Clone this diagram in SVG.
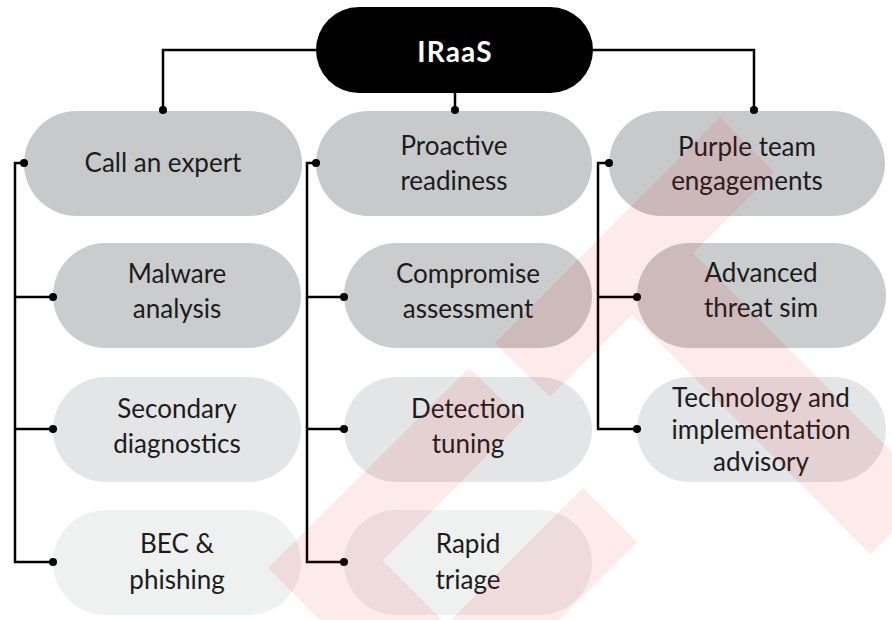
<svg xmlns="http://www.w3.org/2000/svg" width="892" height="620" viewBox="0 0 892 620">
  <style>
    .n1 { fill: #c8c9cb; }
    .n2 { fill: #cbcccd; }
    .n3 { fill: #e4e5e6; }
    .n4 { fill: #eff0f0; }
    .t { font-family: "Lato", "Liberation Sans", sans-serif; font-size: 26px; font-weight: 400; fill: #1c1c1c; text-anchor: middle; }
    .root-t { font-family: "Lato", "Liberation Sans", sans-serif; font-size: 28px; font-weight: bold; letter-spacing: 1.2px; fill: #fff; text-anchor: middle; }
    .ln { fill: none; stroke: #000; stroke-width: 2.5; }
    .dot { fill: #000; }
    .wm { fill: #e4131b; fill-opacity: 0.09; }
  </style>
  <rect width="892" height="620" fill="#fff"/>

  <g id="root">
    <rect x="316" y="7" width="277" height="86" rx="43" fill="#000"/>
    <text class="root-t" x="455" y="62">IRaaS</text>
  </g>

  <g id="call-an-expert">
    <rect class="n1" x="24" y="111" width="278" height="105" rx="52.5"/>
    <text class="t" x="163" y="172">Call an expert</text>
  </g>
  <g id="malware-analysis">
    <rect class="n2" x="53" y="243" width="248" height="105" rx="52.5"/>
    <text class="t" x="177" y="283">Malware</text>
    <text class="t" x="177" y="318">analysis</text>
  </g>
  <g id="secondary-diagnostics">
    <rect class="n3" x="53" y="377" width="248" height="105" rx="52.5"/>
    <text class="t" x="177" y="418">Secondary</text>
    <text class="t" x="177" y="453">diagnostics</text>
  </g>
  <g id="bec-phishing">
    <rect class="n4" x="53" y="510" width="248" height="105" rx="52.5"/>
    <text class="t" x="177" y="553">BEC &amp;</text>
    <text class="t" x="177" y="589">phishing</text>
  </g>

  <g id="proactive-readiness">
    <rect class="n1" x="316" y="111" width="276" height="105" rx="52.5"/>
    <text class="t" x="454" y="155">Proactive</text>
    <text class="t" x="454" y="190">readiness</text>
  </g>
  <g id="compromise-assessment">
    <rect class="n2" x="344" y="243" width="248" height="105" rx="52.5"/>
    <text class="t" x="468" y="283">Compromise</text>
    <text class="t" x="468" y="318">assessment</text>
  </g>
  <g id="detection-tuning">
    <rect class="n3" x="344" y="377" width="248" height="105" rx="52.5"/>
    <text class="t" x="468" y="418">Detection</text>
    <text class="t" x="468" y="453">tuning</text>
  </g>
  <g id="rapid-triage">
    <rect class="n4" x="344" y="510" width="248" height="105" rx="52.5"/>
    <text class="t" x="468" y="553">Rapid</text>
    <text class="t" x="468" y="589">triage</text>
  </g>

  <g id="purple-team-engagements">
    <rect class="n1" x="609" y="111" width="276" height="105" rx="52.5"/>
    <text class="t" x="747" y="156">Purple team</text>
    <text class="t" x="747" y="190">engagements</text>
  </g>
  <g id="advanced-threat-sim">
    <rect class="n2" x="637" y="243" width="249" height="105" rx="52.5"/>
    <text class="t" x="761" y="282">Advanced</text>
    <text class="t" x="761" y="317">threat sim</text>
  </g>
  <g id="technology-advisory">
    <rect class="n3" x="637" y="377" width="249" height="105" rx="52.5"/>
    <text class="t" x="761" y="407">Technology and</text>
    <text class="t" x="761" y="439">implementation</text>
    <text class="t" x="761" y="471">advisory</text>
  </g>

  <g id="connectors">
    <path class="ln" d="M316,50 H163 V110"/>
    <path class="ln" d="M593,50 H754 V110"/>
    <path class="ln" d="M455,93 V110"/>
    <path class="ln" d="M24,163 H15 V562 H53 M15,297 H53 M15,429 H53"/>
    <path class="ln" d="M316,163 H307 V562 H344 M307,297 H344 M307,429 H344"/>
    <path class="ln" d="M609,163 H598 V429 H637 M598,297 H637"/>
    <circle class="dot" cx="163" cy="110" r="4"/>
    <circle class="dot" cx="455" cy="110" r="4"/>
    <circle class="dot" cx="754" cy="110" r="4"/>
    <circle class="dot" cx="24" cy="163" r="4"/>
    <circle class="dot" cx="53" cy="297" r="4"/>
    <circle class="dot" cx="53" cy="429" r="4"/>
    <circle class="dot" cx="53" cy="562" r="4"/>
    <circle class="dot" cx="316" cy="163" r="4"/>
    <circle class="dot" cx="344" cy="297" r="4"/>
    <circle class="dot" cx="344" cy="429" r="4"/>
    <circle class="dot" cx="344" cy="562" r="4"/>
    <circle class="dot" cx="609" cy="163" r="4"/>
    <circle class="dot" cx="637" cy="297" r="4"/>
    <circle class="dot" cx="637" cy="429" r="4"/>
  </g>

  <path class="wm" d="M720,117 L774,172 L550,397 L495,343 Z
    M693,253 L932,492 L870,554 L631.5,314.5 Z
    M268,568 L469,368 L523,420 L382.5,560.5 L472,650 L350,650 Z
    M583,488 L637,542 L529,650 L421,650 Z"/>
</svg>
